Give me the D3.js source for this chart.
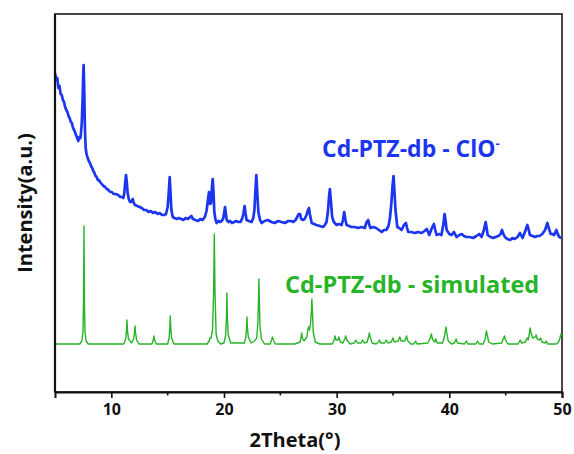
<!DOCTYPE html>
<html>
<head>
<meta charset="utf-8">
<script src="https://cdn.jsdelivr.net/npm/d3@7"></script>
<style>
  body { margin: 0; background: #fff; }
  text { font-family: "Open Sans", sans-serif; font-weight: bold; }
</style>
</head>
<body>
<script>
// experimental pattern (2theta, intensity a.u.)
const measured = [[5.0,319],[5.1,312],[5.2,314],[5.3,304],[5.4,306],[5.5,298],[5.6,297],[5.7,292],[5.8,290],[5.9,285],[6.0,282],[6.1,280],[6.2,276],[6.3,274],[6.4,270],[6.5,269],[6.6,264],[6.7,262],[6.8,259],[6.9,256],[7.0,253],[7.07,251],[7.15,255],[7.25,254],[7.3,258],[7.38,270],[7.45,292],[7.5,315],[7.54,327],[7.58,310],[7.62,285],[7.66,262],[7.72,244],[7.8,238],[7.9,234],[8.0,231],[8.1,229],[8.2,226],[8.3,224],[8.4,221],[8.5,219],[8.6,216],[8.7,215],[8.8,212],[8.9,212],[9.0,210],[9.15,208],[9.3,206],[9.45,205],[9.6,203],[9.75,202],[9.9,200],[10.05,200],[10.2,198],[10.4,198],[10.6,197],[10.8,195],[10.95,195],[11.07,194],[11.15,199],[11.22,208],[11.3,217],[11.37,210],[11.45,199],[11.55,193],[11.66,190],[11.78,190],[11.9,193],[12.0,189],[12.1,187],[12.3,186],[12.5,185],[12.7,184],[12.9,182],[13.1,182],[13.3,180],[13.5,181],[13.7,179],[13.9,180],[14.1,178],[14.3,179],[14.5,177],[14.7,177],[14.85,178],[15.0,185],[15.1,200],[15.18,215],[15.25,200],[15.33,182],[15.45,175],[15.6,174],[15.8,173],[16.0,174],[16.2,173],[16.4,172],[16.6,174],[16.8,173],[17.0,175],[17.1,176],[17.25,173],[17.45,172],[17.7,171],[17.9,173],[18.1,172],[18.3,175],[18.45,181],[18.55,190],[18.67,200],[18.76,188],[18.85,189],[18.93,205],[19.0,213],[19.07,200],[19.14,180],[19.25,172],[19.35,169],[19.5,171],[19.65,170],[19.8,171],[19.94,174],[20.02,180],[20.09,185],[20.17,178],[20.24,172],[20.4,170],[20.55,171],[20.7,169],[20.9,170],[21.1,171],[21.27,170],[21.45,170],[21.6,173],[21.72,178],[21.83,186],[21.92,178],[22.0,172],[22.2,171],[22.45,170],[22.6,174],[22.7,182],[22.78,200],[22.87,217],[22.95,200],[23.05,180],[23.2,172],[23.35,169],[23.6,171],[23.9,172],[24.2,170],[24.5,169],[24.8,171],[25.1,170],[25.4,169],[25.7,171],[25.95,171],[26.15,170],[26.35,172],[26.5,175],[26.62,178],[26.75,178],[26.85,173],[27.0,172],[27.15,173],[27.33,177],[27.45,182],[27.54,184],[27.62,178],[27.78,169],[28.0,168],[28.2,167],[28.5,166],[28.8,165],[28.95,167],[29.1,170],[29.22,180],[29.32,195],[29.4,203],[29.48,192],[29.6,175],[29.75,170],[30.0,167],[30.2,168],[30.44,167],[30.56,172],[30.67,180],[30.78,172],[30.88,167],[31.1,166],[31.3,165],[31.6,165],[31.9,164],[32.2,165],[32.5,164],[32.66,170],[32.8,172],[32.9,167],[33.0,164],[33.25,165],[33.5,164],[33.75,162],[34.0,160],[34.2,162],[34.4,162],[34.6,166],[34.73,174],[34.85,188],[34.95,205],[35.05,216],[35.13,200],[35.22,182],[35.38,165],[35.55,164],[35.76,162],[35.97,167],[36.15,169],[36.25,164],[36.35,160],[36.6,160],[36.95,159],[37.2,160],[37.54,159],[37.8,161],[38.0,163],[38.22,157],[38.45,164],[38.63,168],[38.75,162],[38.87,157],[39.1,158],[39.3,157],[39.46,167],[39.58,178],[39.68,170],[39.76,162],[40.0,158],[40.2,157],[40.4,160],[40.65,155],[40.9,157],[41.1,158],[41.3,156],[41.5,155],[41.8,155],[42.1,154],[42.4,156],[42.66,158],[42.86,155],[43.07,162],[43.22,170],[43.3,165],[43.4,157],[43.65,155],[43.9,154],[44.1,155],[44.35,156],[44.55,158],[44.67,162],[44.8,158],[44.93,155],[45.15,153],[45.4,152],[45.6,154],[45.8,153],[46.05,155],[46.27,159],[46.5,154],[46.74,161],[46.92,167],[47.05,162],[47.15,157],[47.4,156],[47.6,155],[47.8,156],[48.0,156],[48.25,158],[48.5,162],[48.7,169],[48.85,163],[49.0,158],[49.15,158],[49.3,157],[49.5,162],[49.62,158],[49.76,155],[49.96,154]];

// simulated pattern (2theta, intensity a.u.)
const simulated = [[5.0,48],[7.2,48],[7.38,51],[7.48,60],[7.53,90],[7.57,166],[7.61,90],[7.66,60],[7.76,51],[7.95,48],
  [11.1,48],[11.28,53],[11.35,62],[11.39,72],[11.43,62],[11.52,53],[11.8,49],[11.98,53],[12.06,60],[12.1,66],[12.14,60],[12.24,52],[12.45,48],
  [13.6,48],[13.72,52],[13.78,56],[13.84,52],[14.0,48],[15.0,48],[15.13,54],[15.19,64],[15.23,76],[15.27,64],[15.35,54],[15.55,48],
  [18.5,48],[18.68,51],[18.75,54],[18.85,54],[18.98,62],[19.08,100],[19.14,158],[19.2,100],[19.3,58],[19.45,51],[19.7,48],
  [20.0,49],[20.15,57],[20.22,75],[20.26,99],[20.3,75],[20.38,57],[20.6,49],[21.8,49],[21.94,55],[22.0,64],[22.04,75],[22.08,64],[22.16,55],[22.4,49],
  [22.7,51],[22.9,54],[23.0,68],[23.06,90],[23.1,113],[23.14,90],[23.2,65],[23.32,53],[23.6,48],[24.1,48],[24.22,52],[24.3,55],[24.38,52],[24.55,48],
  [25.5,48],[26.3,48],[26.75,50],[26.85,55],[26.9,59],[26.96,54],[27.1,51],[27.35,55],[27.45,62],[27.5,65],[27.58,62],[27.68,68],[27.75,80],[27.8,93],[27.85,80],[27.92,60],[28.1,50],[28.5,48],
  [29.6,48],[29.78,52],[29.85,56],[29.95,52],[30.1,52],[30.2,55],[30.32,50],[30.55,49],[30.72,53],[30.8,56],[30.9,52],[31.2,48],[31.55,49],[31.7,52],[31.85,49],[32.15,49],[32.3,52],[32.45,49],
  [32.7,50],[32.85,56],[32.9,59],[32.97,55],[33.15,49],[33.5,48],[33.7,50],[33.8,52],[33.92,49],[34.25,49],[34.4,52],[34.55,49],[34.85,50],[35.0,54],[35.12,50],[35.45,51],[35.6,55],[35.72,51],[36.05,51],[36.2,56],[36.32,51],[36.6,48],
  [36.85,48],[37.0,51],[37.15,48],[38.1,49],[38.3,54],[38.4,58],[38.5,53],[38.7,50],[38.8,53],[38.92,49],[39.4,49],[39.58,56],[39.66,62],[39.7,65],[39.76,60],[39.9,51],[40.2,48],
  [40.45,49],[40.6,53],[40.72,49],[41.35,48],[41.5,51],[41.65,48],[42.35,48],[42.5,51],[42.65,48],[43.0,48],[43.18,53],[43.26,59],[43.3,61],[43.36,57],[43.5,50],[43.8,48],
  [44.65,49],[44.82,54],[44.9,56],[44.98,52],[45.2,48],[46.1,48],[46.3,52],[46.42,49],[46.75,50],[46.9,54],[47.0,52],[47.1,58],[47.17,64],[47.24,60],[47.4,54],[47.6,55],[47.7,57],[47.8,53],[48.0,52],[48.1,54],[48.22,50],[48.5,49],[48.6,51],[48.72,48],
  [49.5,48],[49.7,50],[49.82,54],[49.9,58],[50.0,56]];

const xTicks = [10, 20, 30, 40, 50];
const xMinorTicks = [15, 25, 35, 45];
const labelMeasured = 'Cd-PTZ-db - ClO';
const labelSimulated = 'Cd-PTZ-db - simulated';

const width = 574;
const height = 454;
const margin = { top: 14, right: 12, bottom: 62, left: 55 };

const blue = '#1c36ef';
const green = '#27b427';

const svg = d3.select('body')
  .append('svg')
  .attr('width', width)
  .attr('height', height);

const x = d3.scaleLinear()
  .domain([5, 50])
  .range([margin.left, width - margin.right]);

const y = d3.scaleLinear()
  .domain([0, 378])
  .range([height - margin.bottom, margin.top]);

// frame (top and right)
svg.append('rect')
  .attr('x', margin.left)
  .attr('y', margin.top)
  .attr('width', width - margin.right - margin.left)
  .attr('height', height - margin.bottom - margin.top)
  .attr('fill', 'none')
  .attr('stroke', '#333')
  .attr('stroke-width', 1.8);

const line = d3.line()
  .x(d => x(d[0]))
  .y(d => y(d[1]));

svg.append('path')
  .datum(simulated)
  .attr('fill', 'none')
  .attr('stroke', green)
  .attr('stroke-width', 1.4)
  .attr('stroke-linejoin', 'round')
  .attr('d', line);

svg.append('path')
  .datum(measured)
  .attr('fill', 'none')
  .attr('stroke', blue)
  .attr('stroke-width', 2.7)
  .attr('stroke-linejoin', 'round')
  .attr('d', line);

// bottom axis
const xAxis = svg.append('g')
  .attr('transform', `translate(0,${height - margin.bottom})`)
  .call(d3.axisBottom(x).tickValues(xTicks).tickSize(6).tickPadding(6).tickFormat(d3.format('d')));

xAxis.select('.domain').attr('stroke', '#111').attr('stroke-width', 2);
xAxis.selectAll('.tick line').attr('stroke', '#111').attr('stroke-width', 1.6);
xAxis.selectAll('.tick text')
  .attr('fill', '#111')
  .style('font-family', '"Open Sans", sans-serif')
  .style('font-weight', 'bold')
  .style('font-size', '16px');

svg.append('g')
  .selectAll('line')
  .data(xMinorTicks)
  .join('line')
  .attr('x1', d => x(d))
  .attr('x2', d => x(d))
  .attr('y1', height - margin.bottom)
  .attr('y2', height - margin.bottom + 3.5)
  .attr('stroke', '#111')
  .attr('stroke-width', 1.6);

// left axis (no ticks)
svg.append('line')
  .attr('x1', margin.left)
  .attr('x2', margin.left)
  .attr('y1', margin.top)
  .attr('y2', height - margin.bottom)
  .attr('stroke', '#111')
  .attr('stroke-width', 2.2);

// axis titles
svg.append('text')
  .attr('x', 295)
  .attr('y', 447)
  .attr('text-anchor', 'middle')
  .attr('fill', '#111')
  .style('font-size', '20px')
  .text('2Theta(°)');

svg.append('text')
  .attr('transform', 'translate(32,203) rotate(-90)')
  .attr('text-anchor', 'middle')
  .attr('fill', '#111')
  .style('font-size', '20px')
  .text('Intensity(a.u.)');

// series labels
const t1 = svg.append('text')
  .attr('x', 322)
  .attr('y', 157)
  .attr('fill', blue)
  .style('font-size', '23px')
  .text(labelMeasured);
t1.append('tspan')
  .attr('dy', -9)
  .style('font-size', '13px')
  .text('-');

svg.append('text')
  .attr('x', 285)
  .attr('y', 293)
  .attr('fill', green)
  .style('font-size', '23.5px')
  .text(labelSimulated);
</script>
</body>
</html>
